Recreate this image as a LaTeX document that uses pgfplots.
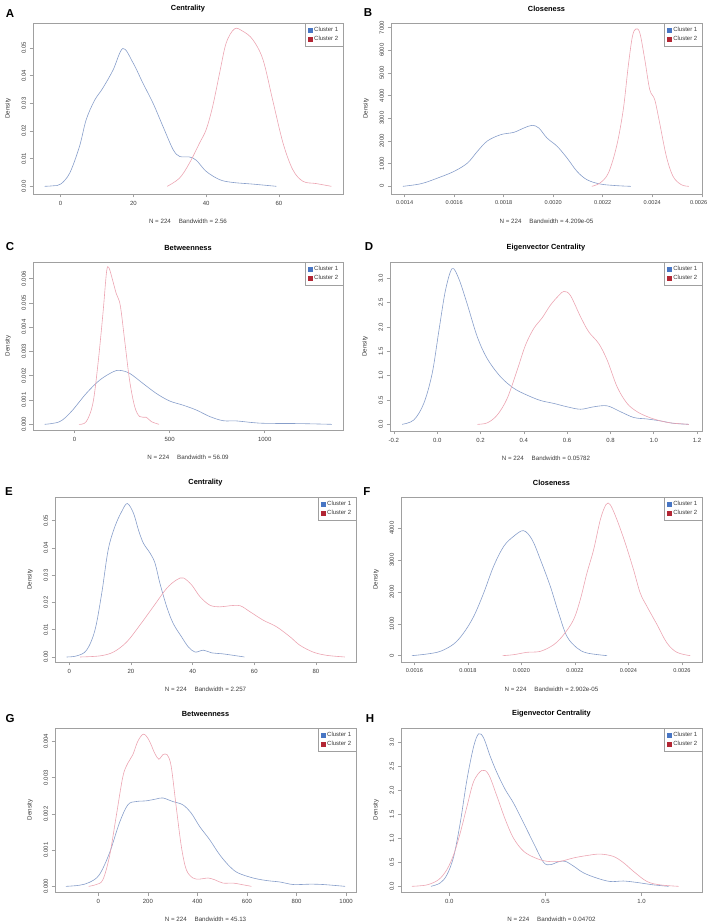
\documentclass[border=0pt]{standalone}
\usepackage{fontspec}
\setmainfont{Liberation Sans}
\usepackage{pgfplots}
\pgfplotsset{compat=1.18}

\definecolor{c1}{RGB}{135,158,202}
\definecolor{c2}{RGB}{236,165,178}
\definecolor{l1}{RGB}{72,118,196}
\definecolor{l2}{RGB}{178,38,52}
\definecolor{frame}{RGB}{160,160,160}
\definecolor{txt}{RGB}{60,60,60}

\pgfplotsset{
  every axis title shift=0pt,
  rden/.style={
    scale only axis, anchor=south west, width=301pt, height=165pt,
    axis line style={frame, line width=0.6pt},
    tick align=outside, xtick pos=left, ytick pos=left,
    major tick length=3.5pt,
    tick style={frame, line width=0.5pt},
    ticklabel style={font=\fontsize{6}{7}\selectfont, text=txt},
    yticklabel style={rotate=90, anchor=south},
    /pgf/number format/assume math mode=true,
    scaled ticks=false,
    xlabel style={font=\fontsize{6.2}{7}\selectfont, text=txt, at={(axis description cs:0.5,0)}, anchor=center, yshift=-27pt},
    ylabel style={font=\fontsize{6.2}{7}\selectfont, text=txt, at={([xshift=-25pt]axis description cs:0,0.5)}, anchor=center},
    ylabel=Density,
    title style={font=\bfseries\fontsize{7.4}{8}\selectfont, at={(axis description cs:0.5,1)}, anchor=center, yshift=14pt},
    legend style={at={(1,1)}, anchor=north east, draw=frame, line width=0.5pt,
      font=\fontsize{6}{7}\selectfont, text=txt, inner xsep=2.5pt, inner ysep=2pt, row sep=-0.5pt},
    legend cell align=left,
  },
  k1/.style={c1, line width=0.6pt, smooth, tension=0.55, forget plot},
  k2/.style={c2, line width=0.6pt, smooth, tension=0.55, forget plot},
  leg1/.style={legend image code/.code={\fill[l1] (0pt,-1.9pt) rectangle (3.8pt,1.9pt);}},
  leg2/.style={legend image code/.code={\fill[l2] (0pt,-1.9pt) rectangle (3.8pt,1.9pt);}},
}

\begin{document}
\begin{tikzpicture}
% A
\begin{axis}[rden, at={(33pt,729pt)}, width=310pt, height=171pt,
  title=Centrality, xlabel={N = 224 \quad Bandwidth = 2.56},
  xmin=-7.6, xmax=77.6, ymin=-0.00277, ymax=0.059,
  xtick={0,20,40,60}, xticklabels={0,20,40,60},
  ytick={0,0.01,0.02,0.03,0.04,0.05}, yticklabels={0.00,0.01,0.02,0.03,0.04,0.05}]
\addplot[k1] coordinates {(-4.4,0) (-2,0.0002) (0,0.0008) (2.5,0.0048) (5.2,0.0145) (7,0.024) (9.3,0.031) (11.6,0.0355) (14.4,0.042) (17.1,0.0498) (19.9,0.0446) (22.6,0.0373) (25.4,0.030) (28.1,0.0217) (30.9,0.0133) (32.7,0.0108) (35.4,0.0106) (37.3,0.0094) (40,0.0054) (43.7,0.0024) (47.3,0.0014) (52.8,0.0008) (59.3,0)};
\addplot[k2] coordinates {(29.3,0) (32.7,0.003) (35.4,0.0084) (38.2,0.0157) (40,0.0205) (41.8,0.029) (43.7,0.041) (45.5,0.0518) (47.8,0.0569) (50.1,0.056) (52.8,0.053) (55.6,0.0458) (58.3,0.031) (61.1,0.0157) (63.8,0.006) (66.6,0.0018) (70.2,0.001) (74.4,0)};
\addlegendimage{leg1}\addlegendentry{Cluster 1}
\addlegendimage{leg2}\addlegendentry{Cluster 2}
\end{axis}
% B
\begin{axis}[rden, at={(391pt,729pt)}, width=311pt, height=171pt,
  title=Closeness, xlabel={N = 224 \quad Bandwidth = 4.209e-05},
  xmin=0.001345, xmax=0.002601, ymin=-338, ymax=7206,
  xticklabel style={font=\fontsize{5.6}{7}\selectfont},
  xtick={0.0014,0.0016,0.0018,0.002,0.0022,0.0024,0.0026},
  xticklabels={0.0014,0.0016,0.0018,0.0020,0.0022,0.0024,\makebox[11pt][r]{0.0026}},
  ytick={0,1000,2000,3000,4000,5000,6000,7000}, yticklabels={0,1000,2000,3000,4000,5000,6000,7000}]
\addplot[k1] coordinates {(0.001393,0) (0.001467,118) (0.001534,368) (0.0016,662) (0.001654,1030) (0.001694,1544) (0.001734,2000) (0.001788,2279) (0.001841,2382) (0.001882,2574) (0.001915,2691) (0.001942,2574) (0.001975,2132) (0.002016,1765) (0.002056,1250) (0.002096,662) (0.002136,294) (0.002189,103) (0.002256,30) (0.002314,0)};
\addplot[k2] coordinates {(0.002156,0) (0.002189,147) (0.002223,588) (0.002256,1765) (0.002283,3382) (0.002303,5294) (0.00232,6618) (0.002334,6941) (0.00235,6765) (0.00237,5588) (0.00239,4265) (0.00241,3824) (0.00243,2794) (0.002457,1324) (0.002484,441) (0.002517,74) (0.002548,0)};
\addlegendimage{leg1}\addlegendentry{Cluster 1}
\addlegendimage{leg2}\addlegendentry{Cluster 2}
\end{axis}
% C
\begin{axis}[rden, at={(33pt,493pt)}, width=310pt, height=168pt,
  title=Betweenness, xlabel={N = 224 \quad Bandwidth = 56.09},
  xmin=-219, xmax=1412, ymin=-0.000233, ymax=0.00668,
  xtick={0,500,1000}, xticklabels={0,500,1000},
  ytick={0,0.001,0.002,0.003,0.004,0.005,0.006}, yticklabels={0.000,0.001,0.002,0.003,0.004,0.005,0.006}]
\addplot[k1] coordinates {(-158,0) (-79,0.00011) (-18,0.00052) (61,0.00127) (132,0.00182) (202,0.00216) (237,0.00222) (289,0.0021) (360,0.00168) (430,0.00127) (500,0.00096) (570,0.00079) (640,0.00059) (711,0.00032) (781,0.00015) (851,0.00014) (939,0.00007) (1009,0.00004) (1184,0.00003) (1354,0)};
\addplot[k2] coordinates {(23,0) (61,0.00011) (96,0.00086) (123,0.0025) (149,0.00456) (168,0.00627) (180,0.00645) (200,0.00593) (219,0.00538) (240,0.0049) (263,0.00347) (289,0.00182) (316,0.00073) (342,0.00032) (377,0.00029) (404,0.00011) (444,0)};
\addlegendimage{leg1}\addlegendentry{Cluster 1}
\addlegendimage{leg2}\addlegendentry{Cluster 2}
\end{axis}
% D
\begin{axis}[rden, at={(390pt,492pt)}, width=312pt, height=169pt,
  title=Eigenvector Centrality, xlabel={N = 224 \quad Bandwidth = 0.05782},
  xmin=-0.218, xmax=1.223, ymin=-0.137, ymax=3.336,
  xtick={-0.2,0,0.2,0.4,0.6,0.8,1,1.2}, xticklabels={-0.2,0.0,0.2,0.4,0.6,0.8,1.0,1.2},
  ytick={0,0.5,1,1.5,2,2.5,3}, yticklabels={0.0,0.5,1.0,1.5,2.0,2.5,3.0}]
\addplot[k1] coordinates {(-0.162,0) (-0.108,0.09) (-0.062,0.43) (-0.023,1.05) (0.008,1.93) (0.038,2.75) (0.069,3.2) (0.1,2.99) (0.138,2.48) (0.185,1.8) (0.231,1.35) (0.292,0.98) (0.354,0.74) (0.415,0.60) (0.477,0.49) (0.538,0.43) (0.6,0.36) (0.662,0.31) (0.723,0.36) (0.785,0.38) (0.846,0.26) (0.908,0.14) (0.969,0.11) (1.031,0.07) (1.092,0.02) (1.162,0)};
\addplot[k2] coordinates {(0.185,0) (0.231,0.03) (0.277,0.19) (0.323,0.53) (0.369,1.11) (0.408,1.63) (0.446,1.97) (0.485,2.19) (0.523,2.45) (0.562,2.65) (0.585,2.73) (0.615,2.65) (0.662,2.21) (0.7,1.9) (0.746,1.66) (0.785,1.32) (0.831,0.77) (0.877,0.43) (0.923,0.26) (0.969,0.16) (1.015,0.09) (1.077,0.03) (1.162,0)};
\addlegendimage{leg1}\addlegendentry{Cluster 1}
\addlegendimage{leg2}\addlegendentry{Cluster 2}
\end{axis}
% E
\begin{axis}[rden, at={(55pt,261pt)}, width=301pt, height=165pt,
  title=Centrality, xlabel={N = 224 \quad Bandwidth = 2.257},
  xmin=-4.65, xmax=93, ymin=-0.00184, ymax=0.0587,
  xtick={0,20,40,60,80}, xticklabels={0,20,40,60,80},
  ytick={0,0.01,0.02,0.03,0.04,0.05}, yticklabels={0.00,0.01,0.02,0.03,0.04,0.05}]
\addplot[k1] coordinates {(-0.9,0) (2.4,0.0004) (5.6,0.0025) (8.3,0.0098) (10.5,0.0233) (12.6,0.0393) (14.8,0.0479) (17,0.0534) (18.8,0.0563) (20.8,0.0528) (22.4,0.0467) (24,0.0418) (26.2,0.0381) (27.8,0.0344) (29.4,0.027) (31.6,0.0184) (33.7,0.0123) (36.4,0.0074) (38.6,0.0037) (40.8,0.0018) (43.5,0.0025) (46.2,0.0015) (49.4,0.0012) (53.2,0.0006) (56.8,0)};
\addplot[k2] coordinates {(3.5,0) (9.9,0.0004) (14.3,0.0018) (18.6,0.0055) (22.9,0.0117) (27.2,0.0184) (31.6,0.0252) (34.8,0.0283) (37,0.029) (39.7,0.0264) (42.4,0.0221) (45.6,0.019) (48.9,0.0184) (52.1,0.0188) (55.4,0.0188) (58.6,0.0166) (62.9,0.0135) (67.2,0.0111) (71.6,0.0074) (74.8,0.0043) (79.1,0.0018) (83.5,0.0006) (89.4,0)};
\addlegendimage{leg1}\addlegendentry{Cluster 1}
\addlegendimage{leg2}\addlegendentry{Cluster 2}
\end{axis}
% F
\begin{axis}[rden, at={(401pt,261pt)}, width=301pt, height=165pt,
  title=Closeness, xlabel={N = 224 \quad Bandwidth = 2.902e-05},
  xmin=0.00155, xmax=0.002675, ymin=-199, ymax=4984,
  xticklabel style={font=\fontsize{5.6}{7}\selectfont},
  xtick={0.0016,0.0018,0.002,0.0022,0.0024,0.0026},
  xticklabels={0.0016,0.0018,0.0020,0.0022,0.0024,0.0026},
  ytick={0,1000,2000,3000,4000}, yticklabels={0,1000,2000,3000,4000}]
\addplot[k1] coordinates {(0.001591,0) (0.001647,52) (0.001697,136) (0.001747,366) (0.001784,712) (0.001822,1236) (0.001859,1969) (0.001896,2806) (0.001934,3435) (0.001971,3749) (0.002008,3927) (0.00204,3644) (0.002071,3016) (0.002108,2178) (0.002139,1340) (0.00217,607) (0.002208,241) (0.002245,84) (0.00232,0)};
\addplot[k2] coordinates {(0.00193,0) (0.001971,31) (0.002021,105) (0.002071,136) (0.002121,346) (0.002158,660) (0.002195,1131) (0.00222,1759) (0.002245,2597) (0.00227,3330) (0.002295,4272) (0.002316,4743) (0.002332,4743) (0.002357,4272) (0.002388,3539) (0.002419,2702) (0.002444,1969) (0.002469,1550) (0.002507,974) (0.002544,398) (0.002581,105) (0.002631,0)};
\addlegendimage{leg1}\addlegendentry{Cluster 1}
\addlegendimage{leg2}\addlegendentry{Cluster 2}
\end{axis}
% G
\begin{axis}[rden, at={(55pt,31pt)}, width=301pt, height=164pt,
  title=Betweenness, xlabel={N = 224 \quad Bandwidth = 45.13},
  xmin=-175, xmax=1040, ymin=-0.000156, ymax=0.00437,
  xtick={0,200,400,600,800,1000}, xticklabels={0,200,400,600,800,1000},
  ytick={0,0.001,0.002,0.003,0.004}, yticklabels={0.000,0.001,0.002,0.003,0.004}]
\addplot[k1] coordinates {(-131,0) (-77,0.00003) (-36,0.00011) (4,0.00032) (45,0.00092) (85,0.00175) (119,0.00225) (152,0.00234) (193,0.00236) (233,0.00241) (260,0.00244) (301,0.00234) (341,0.00225) (375,0.00202) (409,0.00165) (449,0.00129) (490,0.00087) (530,0.00055) (564,0.00037) (625,0.00023) (679,0.00016) (733,0.00012) (787,0.00005) (854,0.00006) (908,0.00005) (996,0)};
\addplot[k2] coordinates {(-39,0) (-9,0.00005) (18,0.00018) (45,0.00083) (72,0.00193) (99,0.00303) (119,0.0034) (139,0.00363) (159,0.004) (182,0.0042) (204,0.00404) (227,0.00368) (244,0.00351) (260,0.00363) (278,0.00363) (294,0.00331) (314,0.00221) (335,0.0011) (355,0.00046) (382,0.00023) (409,0.0002) (443,0.00023) (470,0.00018) (503,0.00009) (544,0.00009) (578,0.00005) (618,0)};
\addlegendimage{leg1}\addlegendentry{Cluster 1}
\addlegendimage{leg2}\addlegendentry{Cluster 2}
\end{axis}
% H
\begin{axis}[rden, at={(401pt,31pt)}, width=301pt, height=164pt,
  title=Eigenvector Centrality, xlabel={N = 224 \quad Bandwidth = 0.04702},
  xmin=-0.251, xmax=1.314, ymin=-0.118, ymax=3.29,
  xtick={0,0.5,1}, xticklabels={0.0,0.5,1.0},
  ytick={0,0.5,1,1.5,2,2.5,3}, yticklabels={0.0,0.5,1.0,1.5,2.0,2.5,3.0}]
\addplot[k1] coordinates {(-0.095,0) (-0.047,0.07) (-0.012,0.24) (0.023,0.62) (0.057,1.32) (0.092,2.22) (0.127,2.91) (0.153,3.17) (0.179,3.08) (0.213,2.7) (0.248,2.36) (0.291,2.01) (0.334,1.73) (0.386,1.32) (0.438,0.9) (0.49,0.5) (0.525,0.45) (0.568,0.51) (0.603,0.52) (0.646,0.42) (0.698,0.28) (0.768,0.17) (0.837,0.1) (0.906,0.11) (0.976,0.08) (1.062,0.03) (1.14,0)};
\addplot[k2] coordinates {(-0.194,0) (-0.116,0.03) (-0.055,0.14) (-0.012,0.35) (0.023,0.66) (0.057,1.11) (0.092,1.66) (0.127,2.18) (0.17,2.41) (0.205,2.32) (0.248,1.87) (0.291,1.39) (0.334,1.0) (0.386,0.73) (0.447,0.59) (0.508,0.52) (0.577,0.52) (0.646,0.59) (0.716,0.64) (0.785,0.67) (0.854,0.62) (0.906,0.49) (0.958,0.31) (1.028,0.1) (1.097,0.03) (1.192,0)};
\addlegendimage{leg1}\addlegendentry{Cluster 1}
\addlegendimage{leg2}\addlegendentry{Cluster 2}
\end{axis}
% panel letters
\begin{scope}[every node/.style={font=\bfseries\fontsize{11.5}{12}\selectfont, anchor=center}]
\node at (10pt,909pt) {A};
\node at (368pt,910pt) {B};
\node at (10pt,676pt) {C};
\node at (369pt,676pt) {D};
\node at (9pt,431pt) {E};
\node at (367pt,431pt) {F};
\node at (10pt,204pt) {G};
\node at (370pt,204pt) {H};
\end{scope}
\pgfresetboundingbox
\path[use as bounding box] (0pt,0pt) rectangle (708pt,923pt);
\end{tikzpicture}
\end{document}
